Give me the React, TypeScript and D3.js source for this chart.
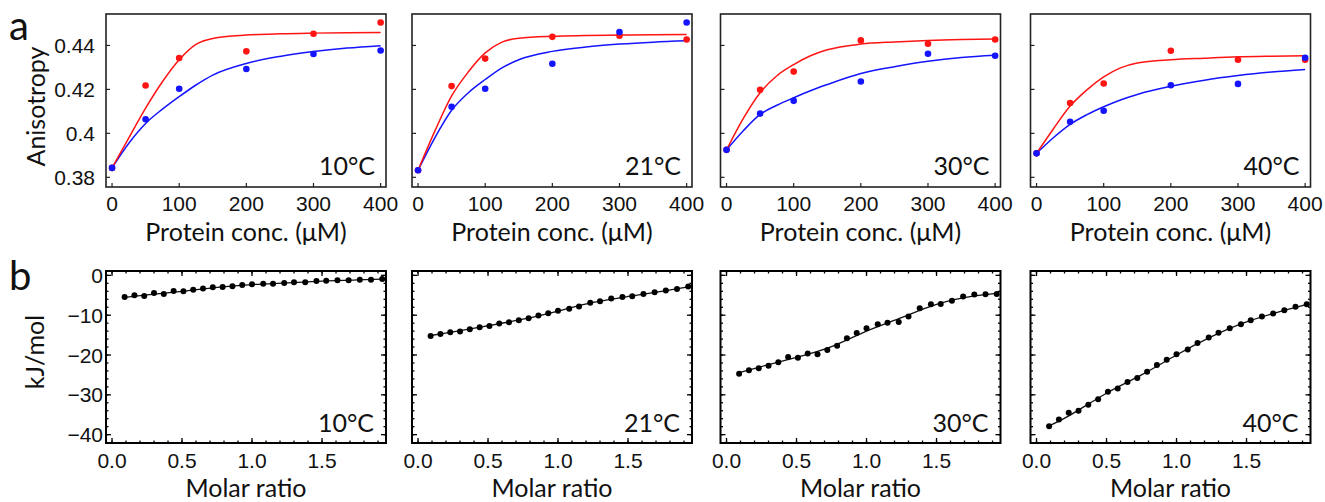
import React from 'react';
import * as d3 from 'd3';

// ---- data ----
const temps = ['10°C', '21°C', '30°C', '40°C'];

// (a) anisotropy vs protein concentration
const concs = [0, 50, 100, 200, 300, 400];
const redPoints = [
    [0.3843, 0.4218, 0.4343, 0.4373, 0.4453, 0.4504],
    [0.3832, 0.4215, 0.434, 0.4439, 0.4444, 0.4427],
    [0.3925, 0.4198, 0.4281, 0.4423, 0.4408, 0.4427],
    [0.3909, 0.4138, 0.4227, 0.4376, 0.4335, 0.4335]
];
const bluePoints = [
    [0.3843, 0.4064, 0.4203, 0.4293, 0.4361, 0.4377],
    [0.3832, 0.4121, 0.4203, 0.4317, 0.4461, 0.4504],
    [0.3925, 0.409, 0.4148, 0.4236, 0.4362, 0.4353],
    [0.3909, 0.4053, 0.4103, 0.4219, 0.4225, 0.4344]
];
const fitConcs = [0, 25, 50, 75, 100, 125, 150, 200, 250, 300, 350, 400];
const redFits = [
    [0.3843, 0.398, 0.4115, 0.4235, 0.4335, 0.4405, 0.4432, 0.4447, 0.4453, 0.4456, 0.4458, 0.4459],
    [0.3832, 0.401, 0.417, 0.428, 0.4366, 0.4415, 0.4433, 0.4442, 0.4445, 0.4447, 0.4449, 0.445],
    [0.3925, 0.4068, 0.4185, 0.4262, 0.4313, 0.4353, 0.438, 0.4406, 0.4416, 0.4423, 0.4427, 0.4429],
    [0.3909, 0.402, 0.4124, 0.4198, 0.4257, 0.4298, 0.432, 0.4335, 0.4342, 0.4348, 0.4351, 0.4353]
];
const blueFits = [
    [0.3843, 0.3955, 0.4045, 0.411, 0.4167, 0.422, 0.4265, 0.4318, 0.435, 0.4372, 0.4388, 0.4399],
    [0.3832, 0.398, 0.4105, 0.4185, 0.4245, 0.4298, 0.4335, 0.4373, 0.4393, 0.4406, 0.4415, 0.4421],
    [0.3925, 0.4012, 0.4086, 0.4128, 0.4162, 0.4194, 0.4222, 0.4272, 0.4303, 0.4328, 0.4345, 0.4355],
    [0.3909, 0.398, 0.4041, 0.4085, 0.4121, 0.4152, 0.4177, 0.4214, 0.4242, 0.4263, 0.4279, 0.4291]
];

// (b) ITC heats vs molar ratio
const ratios = [0.09, 0.16, 0.23, 0.30, 0.37, 0.44, 0.51, 0.58, 0.65, 0.72, 0.79, 0.86, 0.93,
    1.00, 1.08, 1.15, 1.23, 1.30, 1.38, 1.46, 1.53, 1.61, 1.69, 1.77, 1.85, 1.93];
const heats = [
    [-5.4, -5.0, -5.2, -4.4, -4.7, -3.9, -4.0, -3.6, -3.3, -3.0, -2.9, -2.7, -2.4,
        -2.25, -2.1, -2.1, -1.9, -1.75, -1.7, -1.4, -1.35, -1.25, -1.2, -1.1, -1.1, -0.9],
    [-15.2, -14.7, -14.3, -14.1, -13.5, -13.0, -12.7, -12.1, -11.75, -11.25, -10.75, -10.1, -9.5,
        -8.9, -8.4, -7.8, -6.9, -6.5, -5.8, -5.4, -5.25, -4.7, -4.25, -3.8, -3.4, -2.8],
    [-24.7, -23.8, -23.3, -22.7, -21.8, -20.5, -20.7, -19.6, -19.8, -18.75, -17.7, -15.8, -14.5,
        -13.3, -12.25, -11.9, -11.7, -10.3, -8.25, -7.25, -7.2, -6.4, -5.3, -4.8, -4.75, -4.7],
    [-37.9, -36.2, -34.5, -34.0, -32.5, -31.1, -29.2, -28.4, -26.8, -25.75, -24.2, -22.5, -21.2,
        -19.8, -18.6, -17.0, -15.6, -14.4, -13.3, -12.25, -11.25, -10.3, -9.6, -8.75, -7.9, -7.25]
];
const fitRatios = [0.09, 0.25, 0.5, 0.75, 1.0, 1.25, 1.5, 1.75, 1.93];
const heatFits = [
    [-5.5, -4.9, -4.0, -3.0, -2.3, -1.9, -1.45, -1.15, -0.95],
    [-15.1, -14.2, -12.65, -11.0, -8.95, -6.8, -5.3, -3.95, -2.9],
    [-24.4, -22.9, -20.6, -17.9, -14.0, -10.6, -7.3, -5.3, -4.5],
    [-37.8, -34.9, -29.6, -25.0, -20.0, -15.4, -11.7, -9.0, -7.3]
];

const anisoTicks = [0.38, 0.4, 0.42, 0.44];
const anisoTickLabels = ['0.38', '0.4', '0.42', '0.44'];
const concTicks = [0, 100, 200, 300, 400];
const heatTicks = [0, -10, -20, -30, -40];
const heatTickLabels = ['0', '\u221210', '\u221220', '\u221230', '\u221240'];
const ratioTicks = [0, 0.5, 1, 1.5];
const ratioTickLabels = ['0.0', '0.5', '1.0', '1.5'];

// ---- layout ----
const panelLeft = [106, 412, 720.5, 1030.5];
const W = 280;
const topA = 14, hA = 173;
const topB = 271, hB = 172;
const RED = '#ff1414';
const BLUE = '#1414ff';
const tickFont = '"Liberation Sans", Arial, sans-serif';
const textFont = 'Lato, "Open Sans", sans-serif';
const tickSize = 21;
const textSize = 25;

const xA = d3.scaleLinear().domain([-9, 408]).range([0, W]);
const yA = d3.scaleLinear().domain([0.3756, 0.4543]).range([hA, 0]);
const xB = d3.scaleLinear().domain([-0.043, 1.957]).range([0, W]);
const yB = d3.scaleLinear().domain([-42.1, 1.1]).range([hB, 0]);

const lineA = d3.line<[number, number]>()
    .x(d => xA(d[0])).y(d => yA(d[1])).curve(d3.curveMonotoneX);
const lineB = d3.line<[number, number]>()
    .x(d => xB(d[0])).y(d => yB(d[1])).curve(d3.curveNatural);

function PanelA({i}: {i: number})
{
    const red = fitConcs.map((c, j) => [c, redFits[i][j]] as [number, number]);
    const blue = fitConcs.map((c, j) => [c, blueFits[i][j]] as [number, number]);
    return (
        <g transform={`translate(${panelLeft[i]},${topA})`}>
            <path d={lineA(blue) || ''} fill="none" stroke={BLUE} strokeWidth={1.5}/>
            <path d={lineA(red) || ''} fill="none" stroke={RED} strokeWidth={1.5}/>
            {concs.map((c, j) => <circle key={'r' + j} cx={xA(c)} cy={yA(redPoints[i][j])} r={3.3} fill={RED}/>)}
            {concs.map((c, j) => <circle key={'b' + j} cx={xA(c)} cy={yA(bluePoints[i][j])} r={3.3} fill={BLUE}/>)}
            {anisoTicks.map(t => <line key={'yt' + t} x1={0} x2={4} y1={yA(t)} y2={yA(t)} stroke="#222" strokeWidth={1.2}/>)}
            {concTicks.map(t => <line key={'xt' + t} x1={xA(t)} x2={xA(t)} y1={hA} y2={hA - 4} stroke="#222" strokeWidth={1.2}/>)}
            <rect x={0} y={0} width={W} height={hA} fill="none" stroke="#222" strokeWidth={1.6}/>
            {concTicks.map(t => (
                <text key={'xl' + t} x={xA(t)} y={hA + 24} textAnchor="middle"
                      fontFamily={tickFont} fontSize={tickSize} fill="#111">{t}</text>
            ))}
            {i === 0 && anisoTicks.map((t, j) => (
                <text key={'yl' + t} x={-11} y={yA(t) + 7.5} textAnchor="end"
                      fontFamily={tickFont} fontSize={tickSize} fill="#111">{anisoTickLabels[j]}</text>
            ))}
            <text x={W / 2} y={hA + 53.5} textAnchor="middle" fontFamily={textFont} fontSize={textSize} fill="#111">
                Protein conc. (μM)
            </text>
            <text x={W - 11} y={hA - 12} textAnchor="end" fontFamily={textFont} fontSize={25} fill="#111">
                {temps[i]}
            </text>
        </g>
    );
}

function PanelB({i}: {i: number})
{
    const fit = fitRatios.map((r, j) => [r, heatFits[i][j]] as [number, number]);
    const minorX = d3.range(0, 1.95, 0.1);
    const minorY = d3.range(0, -42, -2);
    return (
        <g transform={`translate(${panelLeft[i]},${topB})`}>
            {minorX.map((t, k) => (
                <g key={'mx' + k}>
                    <line x1={xB(t)} x2={xB(t)} y1={hB} y2={hB - 2.5} stroke="#000" strokeWidth={1.3}/>
                    <line x1={xB(t)} x2={xB(t)} y1={0} y2={2.5} stroke="#000" strokeWidth={1.3}/>
                </g>
            ))}
            {minorY.map((t, k) => (
                <g key={'my' + k}>
                    <line x1={0} x2={2.5} y1={yB(t)} y2={yB(t)} stroke="#000" strokeWidth={1.3}/>
                    <line x1={W} x2={W - 2.5} y1={yB(t)} y2={yB(t)} stroke="#000" strokeWidth={1.3}/>
                </g>
            ))}
            {ratioTicks.map(t => (
                <g key={'Mx' + t}>
                    <line x1={xB(t)} x2={xB(t)} y1={hB} y2={hB - 5} stroke="#000" strokeWidth={1.3}/>
                    <line x1={xB(t)} x2={xB(t)} y1={0} y2={5} stroke="#000" strokeWidth={1.3}/>
                </g>
            ))}
            {heatTicks.map(t => (
                <g key={'My' + t}>
                    <line x1={0} x2={5} y1={yB(t)} y2={yB(t)} stroke="#000" strokeWidth={1.3}/>
                    <line x1={W} x2={W - 5} y1={yB(t)} y2={yB(t)} stroke="#000" strokeWidth={1.3}/>
                </g>
            ))}
            <rect x={0} y={0} width={W} height={hB} fill="none" stroke="#000" strokeWidth={2}/>
            <path d={lineB(fit) || ''} fill="none" stroke="#111" strokeWidth={1.3}/>
            {ratios.map((r, j) => <circle key={'p' + j} cx={xB(r)} cy={yB(heats[i][j])} r={3} fill="#000"/>)}
            {ratioTicks.map((t, j) => (
                <text key={'xl' + t} x={xB(t)} y={hB + 24.5} textAnchor="middle"
                      fontFamily={tickFont} fontSize={tickSize} fill="#111">{ratioTickLabels[j]}</text>
            ))}
            {i === 0 && heatTicks.map((t, j) => (
                <text key={'yl' + t} x={-3} y={yB(t) + 7.5} textAnchor="end"
                      fontFamily={tickFont} fontSize={tickSize} fill="#111">{heatTickLabels[j]}</text>
            ))}
            <text x={W / 2} y={hB + 53.5} textAnchor="middle" fontFamily={textFont} fontSize={textSize} fill="#111">
                Molar ratio
            </text>
            <text x={W - 12} y={hB - 11} textAnchor="end" fontFamily={textFont} fontSize={25} fill="#111">
                {temps[i]}
            </text>
        </g>
    );
}

export default function App()
{
    return (
        <svg width={1325} height={502} style={{position: 'absolute', left: 0, top: 0, background: '#fff'}}>
            <text x={9} y={40} fontFamily={textFont} fontSize={40} fill="#111">a</text>
            <text x={9} y={290} fontFamily={textFont} fontSize={40} fill="#111">b</text>
            <text transform={`translate(45,${topA + hA / 2 + 6}) rotate(-90)`} textAnchor="middle"
                  fontFamily={textFont} fontSize={textSize} fill="#111">Anisotropy</text>
            <text transform={`translate(44,${topB + hB / 2 - 5}) rotate(-90)`} textAnchor="middle"
                  fontFamily={textFont} fontSize={textSize} fill="#111">kJ/mol</text>
            {temps.map((t, i) => <PanelA key={'a' + i} i={i}/>)}
            {temps.map((t, i) => <PanelB key={'b' + i} i={i}/>)}
        </svg>
    );
}
